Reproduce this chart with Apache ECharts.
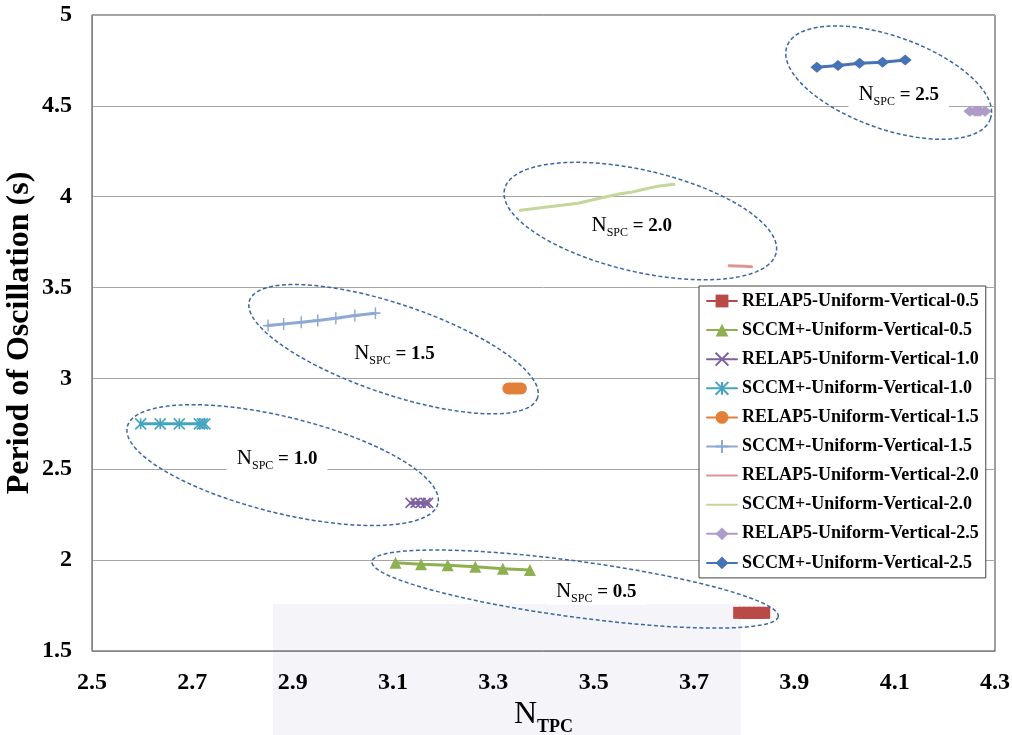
<!DOCTYPE html>
<html>
<head>
<meta charset="utf-8">
<script src="https://cdn.jsdelivr.net/npm/echarts@6/dist/echarts.min.js"></script>
<style>
  html, body { margin: 0; padding: 0; background: #ffffff; }
  #chart { width: 1012px; height: 735px; }
</style>
</head>
<body>
<div id="chart"></div>
<script>
// Axis tick labels
const xTickLabels = ['2.5', '2.7', '2.9', '3.1', '3.3', '3.5', '3.7', '3.9', '4.1', '4.3'];
const yTickLabels = ['1.5', '2', '2.5', '3', '3.5', '4', '4.5', '5'];

// Series names (legend order)
const seriesNames = [
  'RELAP5-Uniform-Vertical-0.5', 'SCCM+-Uniform-Vertical-0.5',
  'RELAP5-Uniform-Vertical-1.0', 'SCCM+-Uniform-Vertical-1.0',
  'RELAP5-Uniform-Vertical-1.5', 'SCCM+-Uniform-Vertical-1.5',
  'RELAP5-Uniform-Vertical-2.0', 'SCCM+-Uniform-Vertical-2.0',
  'RELAP5-Uniform-Vertical-2.5', 'SCCM+-Uniform-Vertical-2.5'
];

// [N_TPC, period (s)] pairs for each case
const relap5_05 = [[3.79, 1.71], [3.80, 1.71], [3.81, 1.71], [3.82, 1.71], [3.83, 1.71], [3.84, 1.71]];
const sccm_05   = [[3.105, 1.986], [3.156, 1.977], [3.209, 1.972], [3.264, 1.963], [3.319, 1.953], [3.373, 1.946]];
const relap5_10 = [[3.135, 2.315], [3.145, 2.315], [3.155, 2.315], [3.165, 2.315], [3.17, 2.315]];
const sccm_10   = [[2.597, 2.75], [2.636, 2.75], [2.674, 2.75], [2.714, 2.75], [2.72, 2.75], [2.725, 2.75]];
const relap5_15 = [[3.33, 2.945], [3.335, 2.945], [3.34, 2.945], [3.345, 2.945], [3.35, 2.945], [3.355, 2.945]];
const sccm_15   = [[2.851, 3.291], [2.882, 3.300], [2.917, 3.309], [2.950, 3.319], [2.986, 3.331], [3.024, 3.346], [3.065, 3.359]];
const relap5_20 = [[3.77, 3.62], [3.785, 3.619], [3.80, 3.617], [3.815, 3.615]];
const sccm_20   = [[3.354, 3.925], [3.469, 3.964], [3.514, 3.993], [3.547, 4.013], [3.574, 4.024], [3.600, 4.041], [3.627, 4.057], [3.66, 4.068]];
const relap5_25 = [[4.25, 4.47], [4.26, 4.47], [4.265, 4.47], [4.27, 4.47], [4.28, 4.47]];
const sccm_25   = [[3.945, 4.713], [3.987, 4.722], [4.030, 4.735], [4.076, 4.740], [4.121, 4.752]];

// Group annotations: N_SPC value, ellipse centre and label position (data units)
const groupValues   = ['0.5', '1.0', '1.5', '2.0', '2.5'];
const groupCentres  = [[3.463, 1.841], [2.880, 2.523], [3.101, 3.161], [3.593, 3.866], [4.088, 4.628]];
const groupLabelPos = [[3.505, 1.819], [2.869, 2.551], [3.103, 3.129], [3.576, 3.835], [4.108, 4.554]];

const FONT = 'Liberation Serif, Times New Roman, serif';

// Ellipse outline shapes in pixels: semi-axes and tilt (degrees)
const ellipseShapes = [
  { a: 205, b: 28, rot: 7.7 },
  { a: 160, b: 48, rot: 13.9 },
  { a: 152, b: 45, rot: 18.65 },
  { a: 139.5, b: 50.7, rot: 13.2 },
  { a: 108, b: 46.3, rot: 19.6 }
];

const crossPath = 'path://M0,0L10,10M10,0L0,10';
const starPath = 'path://M0,0L10,10M10,0L0,10M5,0L5,10';
const plusPath = 'path://M5,0L5,10M0,5L10,5';

function lineSeries(name, data, color, symbol, size, stroked) {
  return {
    name: name,
    type: 'line',
    data: data,
    symbol: symbol,
    symbolSize: size,
    showSymbol: symbol !== 'none',
    lineStyle: { color: color, width: 3, cap: 'round', join: 'round' },
    itemStyle: stroked
      ? { color: color, borderColor: color, borderWidth: 1.6 }
      : { color: color, borderWidth: 0 },
    emphasis: { disabled: true },
    animation: false,
    z: 3
  };
}

const series = [
  lineSeries(seriesNames[0], relap5_05, '#B94A47', 'rect', 12, false),
  lineSeries(seriesNames[1], sccm_05, '#8FB050', 'triangle', 12, false),
  lineSeries(seriesNames[2], relap5_10, '#7D61A0', crossPath, 10, true),
  lineSeries(seriesNames[3], sccm_10, '#46A5BE', starPath, 11, true),
  lineSeries(seriesNames[4], relap5_15, '#E2803A', 'circle', 12, false),
  lineSeries(seriesNames[5], sccm_15, '#8EAAD4', plusPath, [10, 12], true),
  lineSeries(seriesNames[6], relap5_20, '#D99694', 'none', 0, false),
  lineSeries(seriesNames[7], sccm_20, '#C3D69B', 'none', 0, false),
  lineSeries(seriesNames[8], relap5_25, '#AE9CC8', 'diamond', [13, 11], false),
  lineSeries(seriesNames[9], sccm_25, '#4573B5', 'diamond', [13, 11], false)
];

// Legend entries: the two plain-line cases carry no marker
const legendData = seriesNames.map(function (name, i) {
  return (i === 6 || i === 7) ? { name: name, itemStyle: { opacity: 0 } } : { name: name };
});

const chart = echarts.init(document.getElementById('chart'), null, { renderer: 'canvas' });

chart.setOption({
  backgroundColor: '#ffffff',
  animation: false,
  grid: {
    left: 92, right: 17, top: 15, bottom: 84,
    outerBoundsMode: 'none',
    containLabel: false,
    show: true, borderColor: '#404040', borderWidth: 1, backgroundColor: 'transparent'
  },
  xAxis: {
    type: 'value',
    min: 2.5, max: 4.3, interval: 0.1,
    name: '{n|N}{s|TPC}',
    nameLocation: 'middle',
    nameMoveOverlap: false,
    nameGap: 48,
    nameTextStyle: {
      rich: {
        n: { fontFamily: FONT, fontSize: 32, color: '#000', verticalAlign: 'bottom', padding: [0, 0, 5, 0] },
        s: { fontFamily: FONT, fontSize: 18, fontWeight: 'bold', color: '#000', verticalAlign: 'bottom' }
      }
    },
    axisLine: { show: true, lineStyle: { color: '#868686', width: 1 } },
    axisTick: { show: false },
    splitLine: { show: false },
    axisLabel: {
      margin: 20,
      fontFamily: FONT, fontSize: 24, fontWeight: 'bold', color: '#000',
      formatter: function (v) {
        const s = String(+v.toFixed(1));
        return xTickLabels.indexOf(s) >= 0 ? s : '';
      }
    }
  },
  yAxis: {
    type: 'value',
    min: 1.5, max: 5, interval: 0.5,
    name: 'Period of Oscillation (s)',
    nameLocation: 'middle',
    nameMoveOverlap: false,
    nameGap: 56,
    nameTextStyle: { fontFamily: FONT, fontSize: 32, fontWeight: 'bold', color: '#000' },
    axisLine: { show: true, lineStyle: { color: '#868686', width: 1 } },
    axisTick: { show: false },
    splitLine: { show: true, lineStyle: { color: '#A6A6A6', width: 1 } },
    axisLabel: {
      margin: 20,
      fontFamily: FONT, fontSize: 24, fontWeight: 'bold', color: '#000',
      formatter: function (v) {
        const s = String(+v.toFixed(1));
        return yTickLabels.indexOf(s) >= 0 ? s : '';
      }
    }
  },
  legend: {
    data: legendData,
    orient: 'vertical',
    left: 699, top: 286,
    padding: [6, 7, 6, 7],
    itemGap: 11.1,
    itemWidth: 30,
    itemHeight: 16,
    backgroundColor: '#ffffff',
    borderColor: '#404040',
    borderWidth: 1,
    borderRadius: 0,
    selectedMode: false,
    textStyle: { fontFamily: FONT, fontSize: 18, fontWeight: 'bold', color: '#000', lineHeight: 18 }
  },
  series: series
});

// Annotation layer: faint backdrop panel, dashed group ellipses and N_SPC labels
function ellipsePoints(centre, shape) {
  const c = chart.convertToPixel({ gridIndex: 0 }, centre);
  const t = shape.rot * Math.PI / 180;
  const pts = [];
  const n = 160;
  for (let i = 0; i < n; i++) {
    const u = (i / n) * Math.PI * 2;
    const ex = shape.a * Math.cos(u);
    const ey = shape.b * Math.sin(u);
    pts.push([c[0] + ex * Math.cos(t) - ey * Math.sin(t), c[1] + ex * Math.sin(t) + ey * Math.cos(t)]);
  }
  return pts;
}

const graphics = [{
  type: 'rect',
  shape: { x: 273, y: 604, width: 468, height: 131 },
  style: { fill: '#F4F4F9' },
  z: -5,
  silent: true
}];

groupValues.forEach(function (val, i) {
  graphics.push({
    type: 'polygon',
    shape: { points: ellipsePoints(groupCentres[i], ellipseShapes[i]) },
    style: { fill: 'none', stroke: '#3C67A3', lineWidth: 1.5, lineDash: [4, 2.5] },
    z: 10,
    silent: true
  });
  const p = chart.convertToPixel({ gridIndex: 0 }, groupLabelPos[i]);
  graphics.push({
    type: 'text',
    x: p[0], y: p[1],
    z: 11,
    silent: true,
    style: {
      text: '{n|N}{s|SPC}{v| = ' + val + '}',
      align: 'center',
      verticalAlign: 'middle',
      backgroundColor: '#ffffff',
      padding: [0, 10, 0, 10],
      rich: {
        n: { fontFamily: FONT, fontSize: 21, color: '#000', verticalAlign: 'bottom', padding: [0, 0, 3, 0] },
        s: { fontFamily: FONT, fontSize: 12, color: '#000', verticalAlign: 'bottom' },
        v: { fontFamily: FONT, fontSize: 19, fontWeight: 'bold', color: '#000', verticalAlign: 'bottom', padding: [0, 0, 3, 0] }
      }
    }
  });
});

chart.setOption({ graphic: { elements: graphics } });
</script>
</body>
</html>
